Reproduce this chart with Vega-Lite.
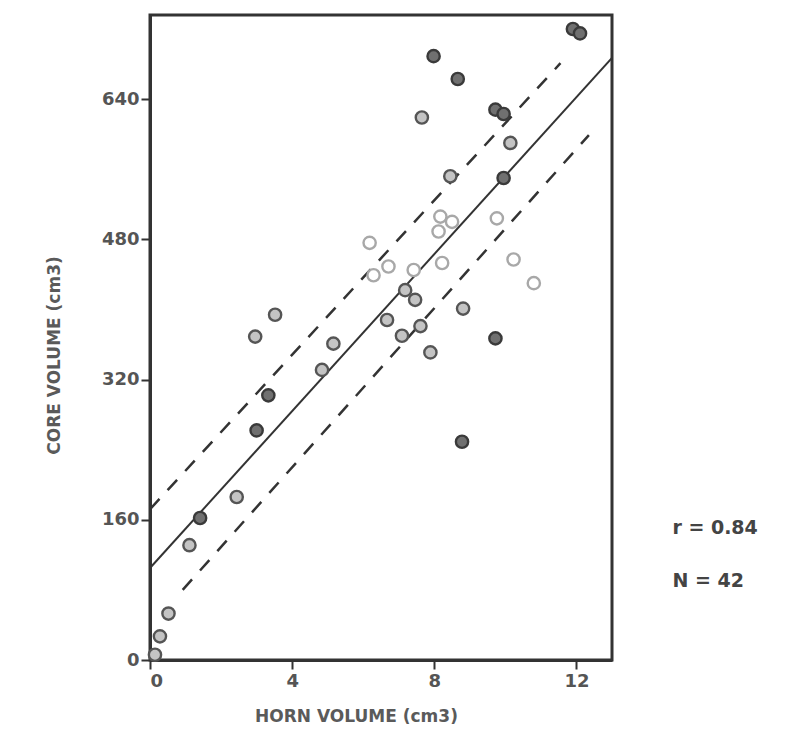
{
  "$schema": "https://vega.github.io/schema/vega-lite/v6.json",
  "autosize": {"type": "none"},
  "padding": {"left": 150, "top": 15, "right": 194, "bottom": 74},
  "width": 462,
  "height": 645,
  "background": "white",
  "config": {
    "view": {"stroke": "#333333", "strokeWidth": 3},
    "axis": {
      "labelFont": "DejaVu Sans", "labelFontWeight": "bold", "labelFontSize": 18, "labelColor": "#555555",
      "titleFont": "DejaVu Sans", "titleFontWeight": "bold", "titleFontSize": 17, "titleColor": "#5a5a5a",
      "domainColor": "#333333", "domainWidth": 3, "tickColor": "#333333", "tickWidth": 2, "tickSize": 9,
      "grid": false
    }
  },
  "datasets": {
    "points": [
      {"horn": 0.14, "core": 6, "kind": "ring"},
      {"horn": 0.28, "core": 27, "kind": "ring"},
      {"horn": 0.52, "core": 53, "kind": "ring"},
      {"horn": 1.11, "core": 131, "kind": "ring"},
      {"horn": 1.41, "core": 162, "kind": "filled"},
      {"horn": 2.44, "core": 186, "kind": "ring"},
      {"horn": 3.0, "core": 262, "kind": "filled"},
      {"horn": 3.33, "core": 302, "kind": "filled"},
      {"horn": 2.96, "core": 369, "kind": "ring"},
      {"horn": 3.52, "core": 394, "kind": "ring"},
      {"horn": 4.84, "core": 331, "kind": "ring"},
      {"horn": 5.16, "core": 361, "kind": "ring"},
      {"horn": 6.18, "core": 476, "kind": "open"},
      {"horn": 6.29, "core": 439, "kind": "open"},
      {"horn": 6.71, "core": 449, "kind": "open"},
      {"horn": 7.42, "core": 445, "kind": "open"},
      {"horn": 8.22, "core": 453, "kind": "open"},
      {"horn": 8.12, "core": 489, "kind": "open"},
      {"horn": 8.17, "core": 506, "kind": "open"},
      {"horn": 8.5, "core": 500, "kind": "open"},
      {"horn": 9.76, "core": 504, "kind": "open"},
      {"horn": 10.23, "core": 457, "kind": "open"},
      {"horn": 10.8, "core": 430, "kind": "open"},
      {"horn": 7.18, "core": 422, "kind": "ring"},
      {"horn": 7.46, "core": 411, "kind": "ring"},
      {"horn": 6.67, "core": 388, "kind": "ring"},
      {"horn": 7.61, "core": 381, "kind": "ring"},
      {"horn": 7.09, "core": 370, "kind": "ring"},
      {"horn": 7.89, "core": 351, "kind": "ring"},
      {"horn": 8.81, "core": 401, "kind": "ring"},
      {"horn": 9.72, "core": 367, "kind": "filled"},
      {"horn": 8.78, "core": 249, "kind": "filled"},
      {"horn": 7.98, "core": 689, "kind": "filled"},
      {"horn": 8.66, "core": 663, "kind": "filled"},
      {"horn": 7.65, "core": 619, "kind": "ring"},
      {"horn": 9.72, "core": 628, "kind": "filled"},
      {"horn": 9.95, "core": 623, "kind": "filled"},
      {"horn": 10.14, "core": 590, "kind": "ring"},
      {"horn": 8.45, "core": 552, "kind": "ring"},
      {"horn": 9.95, "core": 550, "kind": "filled"},
      {"horn": 11.9, "core": 720, "kind": "filled"},
      {"horn": 12.1, "core": 715, "kind": "filled"}
    ],
    "lines": [
      {"x": 0, "y": 105, "x2": 13, "y2": 687, "line": "fit"},
      {"x": 0, "y": 172, "x2": 11.55, "y2": 681, "line": "upper"},
      {"x": 0.92, "y": 80, "x2": 12.35, "y2": 599, "line": "lower"}
    ],
    "notes": [
      {"x": 14.7, "y": 151, "label": "r = 0.84"},
      {"x": 14.7, "y": 90, "label": "N = 42"}
    ]
  },
  "layer": [
    {
      "data": {"name": "lines"},
      "transform": [{"filter": "datum.line == 'fit'"}],
      "mark": {"type": "rule", "color": "#333333", "strokeWidth": 2},
      "encoding": {
        "x": {"field": "x", "type": "quantitative", "scale": {"domain": [0, 13], "nice": false},
              "axis": {"values": [0, 4, 8, 12], "title": "HORN VOLUME (cm3)", "titlePadding": 18, "labelPadding": 3, "titleX": 206}},
        "y": {"field": "y", "type": "quantitative", "scale": {"domain": [0, 736], "nice": false},
              "axis": {"values": [0, 160, 320, 480, 640], "title": "CORE VOLUME (cm3)", "titlePadding": 38, "labelPadding": 2, "titleY": 340}},
        "x2": {"field": "x2"},
        "y2": {"field": "y2"}
      }
    },
    {
      "data": {"name": "lines"},
      "transform": [{"filter": "datum.line != 'fit'"}],
      "mark": {"type": "rule", "color": "#333333", "strokeWidth": 2.5, "strokeDash": [14, 12]},
      "encoding": {
        "x": {"field": "x", "type": "quantitative"},
        "y": {"field": "y", "type": "quantitative"},
        "x2": {"field": "x2"},
        "y2": {"field": "y2"}
      }
    },
    {
      "data": {"name": "points"},
      "mark": {"type": "point", "shape": "circle", "size": 150, "strokeWidth": 2.4, "filled": false, "opacity": 1},
      "encoding": {
        "x": {"field": "horn", "type": "quantitative"},
        "y": {"field": "core", "type": "quantitative"},
        "fill": {"field": "kind", "type": "nominal", "legend": null,
                 "scale": {"domain": ["filled", "ring", "open"], "range": ["#707070", "#c4c4c4", "#ffffff"]}},
        "stroke": {"field": "kind", "type": "nominal", "legend": null,
                   "scale": {"domain": ["filled", "ring", "open"], "range": ["#3a3a3a", "#555555", "#a8a8a8"]}}
      }
    },
    {
      "data": {"name": "notes"},
      "mark": {"type": "text", "align": "left", "baseline": "middle", "font": "DejaVu Sans", "fontWeight": "bold", "fontSize": 19, "color": "#444444", "clip": false},
      "encoding": {
        "x": {"field": "x", "type": "quantitative"},
        "y": {"field": "y", "type": "quantitative"},
        "text": {"field": "label"}
      }
    }
  ]
}
